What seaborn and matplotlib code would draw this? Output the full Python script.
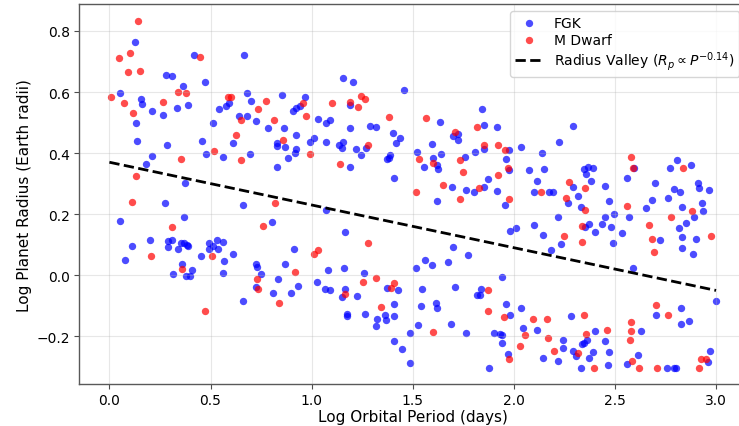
import matplotlib
matplotlib.use("Agg")
import matplotlib.pyplot as plt
import seaborn as sns
import pandas as pd

# FGK stars (blue)
fgk_x = [0.125, 0.416, 0.279, 0.310, 0.365, 0.475, 0.666, 0.054, 0.157, 0.159, 0.210, 0.263, 0.334, 0.390,
         0.133, 0.137, 0.286, 0.210, 0.179, 0.372, 0.456, 0.476, 0.564, 0.512, 0.541, 0.579, 0.589, 0.639, 0.612,
         1.153, 1.204, 1.457, 0.678, 0.699, 0.853, 0.968, 0.909, 0.925, 0.942, 0.681, 0.724, 0.783, 0.861, 0.923,
         0.830, 0.831, 0.869, 0.925, 0.919, 1.014, 0.990, 1.070, 1.034, 1.070, 1.090, 1.189, 1.189, 1.288, 1.317,
         1.403, 1.436, 1.416, 1.136, 1.154, 1.148, 1.220, 1.268, 1.245, 0.884, 0.693, 0.830, 1.189, 1.390, 1.375,
         1.382, 1.406,
         1.843, 1.634, 1.853, 1.919, 1.701, 1.724, 1.724, 1.593, 1.976, 2.036, 2.222, 2.293, 1.520, 1.640, 1.599,
         1.620, 1.625, 1.555, 1.759, 1.810, 1.850, 1.960, 1.976, 1.871, 1.693, 1.851, 1.764, 1.805, 1.919, 2.075,
         2.139, 2.149, 2.117, 2.293, 2.100, 2.173, 2.194,
         2.349, 2.367, 2.389, 2.356, 2.384, 2.449, 2.558, 2.697, 2.809, 2.771, 2.874, 2.912, 2.917, 2.963, 2.792,
         2.820, 2.592,
         0.274, 0.661, 0.053, 0.370, 0.111, 0.077, 0.200, 0.288, 0.309, 0.289, 0.340, 0.353, 0.367, 0.382, 0.391,
         0.360, 0.314, 0.408, 0.378, 0.398, 0.451, 0.492, 0.530, 0.560, 0.492, 0.538, 0.513, 0.569, 0.609, 0.560,
         0.661,
         0.805, 1.070, 1.166, 0.915, 0.724, 0.731, 0.749, 0.868, 0.834, 0.724, 0.810, 0.896, 0.933, 1.080, 1.161,
         1.027, 1.067, 1.090, 1.166, 1.148, 1.222, 1.257, 1.372, 1.426, 1.406, 1.173, 1.176, 1.265, 1.363, 1.406,
         1.324, 1.367, 1.319, 1.406, 1.449, 1.485, 1.485,
         1.619, 1.955, 2.268, 2.217, 2.100, 2.146, 1.981, 2.009, 2.235, 2.182, 1.698, 1.771, 1.563, 1.593, 1.672,
         1.515, 1.942, 1.546, 1.711, 1.838, 1.817, 1.835, 1.614, 1.620, 1.543, 1.961, 2.037, 1.981, 2.283, 1.526,
         1.688, 1.762, 1.904, 1.932, 1.942, 1.942, 2.046, 2.113, 2.242, 2.245, 1.971, 2.146, 2.217, 2.293, 1.877,
         2.317, 2.331, 2.471, 2.685, 2.652, 2.761, 2.833, 2.891, 2.932, 2.935, 2.853, 2.818, 2.833, 2.899, 2.830,
         2.886, 2.725, 2.453, 2.496, 2.568, 2.434, 2.482, 2.370, 2.351, 2.400, 2.533, 2.490, 2.589, 2.998, 2.825,
         2.701, 2.828, 2.866, 2.627, 2.401, 2.360, 2.347, 2.339, 2.449, 2.309, 2.391, 2.370, 2.469, 2.468, 2.331,
         2.612, 2.561, 2.759, 2.792, 2.800, 2.960, 2.970]
fgk_y = [0.763, 0.720, 0.656, 0.652, 0.621, 0.633, 0.720, 0.598, 0.577, 0.560, 0.538, 0.525, 0.548, 0.557,
         0.499, 0.440, 0.428, 0.392, 0.363, 0.301, 0.440, 0.398, 0.386, 0.497, 0.545, 0.553, 0.563, 0.521, 0.433,
         0.645, 0.633, 0.607, 0.598, 0.570, 0.590, 0.585, 0.538, 0.547, 0.555, 0.521, 0.506, 0.483, 0.483, 0.458,
         0.433, 0.424, 0.419, 0.414, 0.400, 0.450, 0.435, 0.435, 0.511, 0.497, 0.507, 0.556, 0.481, 0.488, 0.485,
         0.466, 0.451, 0.433, 0.428, 0.435, 0.417, 0.412, 0.417, 0.393, 0.383, 0.396, 0.353, 0.353, 0.393, 0.379,
         0.384, 0.320,
         0.545, 0.503, 0.493, 0.486, 0.455, 0.461, 0.443, 0.431, 0.411, 0.419, 0.436, 0.488, 0.403, 0.396, 0.383,
         0.362, 0.348, 0.356, 0.388, 0.403, 0.412, 0.380, 0.344, 0.315, 0.290, 0.289, 0.279, 0.273, 0.276, 0.343,
         0.399, 0.348, 0.308, 0.290, 0.271, 0.271, 0.271,
         0.348, 0.356, 0.351, 0.333, 0.310, 0.292, 0.318, 0.301, 0.376, 0.351, 0.362, 0.301, 0.286, 0.279, 0.282,
         0.273, 0.352,
         0.236, 0.231, 0.176, 0.191, 0.096, 0.049, 0.114, 0.111, 0.116, 0.091, 0.087, 0.104, 0.107, 0.098, 0.095,
         0.035, 0.004, 0.016, -0.004, -0.004, 0.063, 0.105, 0.116, 0.110, 0.085, 0.085, 0.094, 0.046, 0.071, 0.007,
         -0.083,
         0.174, 0.213, 0.141, 0.085, 0.037, 0.026, 0.003, 0.037, -0.013, -0.040, -0.059, -0.059, -0.036, 0.016, 0.023,
         -0.023, -0.046, -0.048, -0.044, -0.073, -0.069, 0.006, -0.042, -0.048, -0.094, -0.128, -0.134, -0.127,
         -0.131, -0.133, -0.144, -0.147, -0.166, -0.217, -0.242, -0.188, -0.289,
         0.243, 0.231, 0.235, 0.190, 0.166, 0.133, 0.145, 0.155, 0.102, 0.084, 0.091, 0.067, 0.049, 0.033, 0.042,
         0.024, -0.007, -0.044, -0.038, -0.044, -0.065, -0.065, -0.091, -0.109, -0.101, -0.096, -0.108, -0.131,
         -0.133, -0.164, -0.161, -0.189, -0.188, -0.194, -0.197, -0.222, -0.173, -0.181, -0.211, -0.238, -0.258,
         -0.271, -0.281, -0.250, -0.303,
         0.259, 0.222, 0.243, 0.246, 0.219, 0.254, 0.224, 0.192, 0.238, 0.211, 0.170, 0.153, 0.124, 0.118, 0.089,
         0.071, 0.116, 0.189, 0.199, 0.189, 0.168, 0.158, 0.168, 0.158, 0.142, 0.139, 0.104, 0.022, -0.083, -0.108,
         -0.131, -0.161, -0.151, -0.184, -0.183, -0.212, -0.223, -0.227, -0.217, -0.265, -0.251, -0.271, -0.252,
         -0.293, -0.303, -0.261, -0.290, -0.303, -0.303, -0.303, -0.283, -0.250]

# M dwarfs (red)
mdw_x = [0.142, 0.101, 0.047, 0.090, 0.149, 0.447, 0.006, 0.072, 0.116, 0.266, 0.340, 0.377, 0.133, 0.352,
         0.518, 0.584, 0.599, 0.649, 0.627, 0.653,
         0.774, 0.736, 0.957, 0.971, 0.815, 0.858, 1.100, 1.189, 1.227, 1.243, 1.263, 1.382, 1.278, 0.991, 1.139,
         1.568, 1.818, 1.709, 1.853, 1.924, 1.955, 1.530, 1.598, 1.734, 1.971, 1.747, 1.922, 1.648, 1.827, 1.517,
         2.271, 2.133,
         2.579, 2.589, 2.351, 2.835,
         0.111, 0.312, 0.205, 0.358, 0.507, 0.474,
         0.818, 0.762, 1.278, 1.034, 1.014, 0.919, 0.729, 0.736, 0.838, 1.166, 1.252, 1.316, 1.406, 1.393, 1.341,
         1.734, 1.976, 2.260, 2.247, 1.873, 1.871, 1.950, 2.093, 2.166, 1.598, 2.057, 2.169, 2.028, 2.199, 1.976,
         2.352, 2.558, 2.881, 2.779, 2.975, 2.670, 2.682, 2.692, 2.337, 2.336, 2.705, 2.761, 2.349, 2.581, 2.579,
         2.576, 2.359, 2.459, 2.316, 2.396, 2.583, 2.619, 2.708, 2.917, 2.927, 2.952]
mdw_y = [0.832, 0.728, 0.710, 0.666, 0.670, 0.715, 0.583, 0.563, 0.530, 0.568, 0.600, 0.598, 0.326, 0.380,
         0.408, 0.585, 0.583, 0.509, 0.458, 0.378,
         0.569, 0.545, 0.564, 0.521, 0.507, 0.444, 0.565, 0.567, 0.552, 0.586, 0.577, 0.518, 0.427, 0.396, 0.363,
         0.516, 0.485, 0.470, 0.428, 0.426, 0.411, 0.380, 0.369, 0.378, 0.351, 0.337, 0.329, 0.297, 0.286, 0.273,
         0.306, 0.271,
         0.387, 0.351, 0.285, 0.350,
         0.240, 0.158, 0.063, 0.020, 0.063, -0.116,
         0.238, 0.162, 0.106, 0.081, 0.069, 0.012, -0.011, -0.044, -0.091, -0.061, -0.021, -0.009, -0.026, -0.043,
         -0.104,
         0.251, 0.248, 0.254, 0.127, -0.047, -0.116, -0.138, -0.145, -0.143, -0.185, -0.197, -0.205, -0.233, -0.248,
         -0.273,
         0.213, 0.227, 0.211, 0.189, 0.129, 0.166, 0.120, 0.076, 0.162, 0.109, -0.098, -0.131, -0.131, -0.155,
         -0.184, -0.212, -0.192, -0.180, -0.254, -0.303, -0.282, -0.303, -0.303, -0.303, -0.273, -0.273]

# radius valley line
valley_x = [0.0, 3.0]
valley_y = [0.37, -0.05]

fgk = pd.DataFrame({"x": fgk_x, "y": fgk_y})
mdw = pd.DataFrame({"x": mdw_x, "y": mdw_y})

fig = plt.figure(figsize=(7.39, 4.27), dpi=100)
ax = fig.add_axes([0.107, 0.098, 0.903, 0.89])

sns.scatterplot(data=fgk, x="x", y="y", ax=ax, color="blue", alpha=0.7, s=28,
                linewidth=0, label="FGK", legend=False)
sns.scatterplot(data=mdw, x="x", y="y", ax=ax, color="red", alpha=0.7, s=28,
                linewidth=0, label="M Dwarf", legend=False)
ax.plot(valley_x, valley_y, "k--", lw=2, label=r"Radius Valley ($R_p \propto P^{-0.14}$)")

ax.set_xlim(-0.15, 3.15)
ax.set_ylim(-0.357, 0.888)
ax.set_xticks([0.0, 0.5, 1.0, 1.5, 2.0, 2.5, 3.0])
ax.set_yticks([-0.2, 0.0, 0.2, 0.4, 0.6, 0.8])
ax.set_xlabel("Log Orbital Period (days)", fontsize=11, labelpad=1)
ax.set_ylabel("Log Planet Radius (Earth radii)", fontsize=11, labelpad=3)
ax.tick_params(labelsize=10, color="0.3", pad=3)
ax.grid(True, alpha=0.3)
for sp in ax.spines.values():
    sp.set_color("0.35")
    sp.set_linewidth(1.0)
ax.legend(loc="upper right", fontsize=10, labelspacing=0.2, borderpad=0.35)

fig.savefig("out.png", dpi=100)
